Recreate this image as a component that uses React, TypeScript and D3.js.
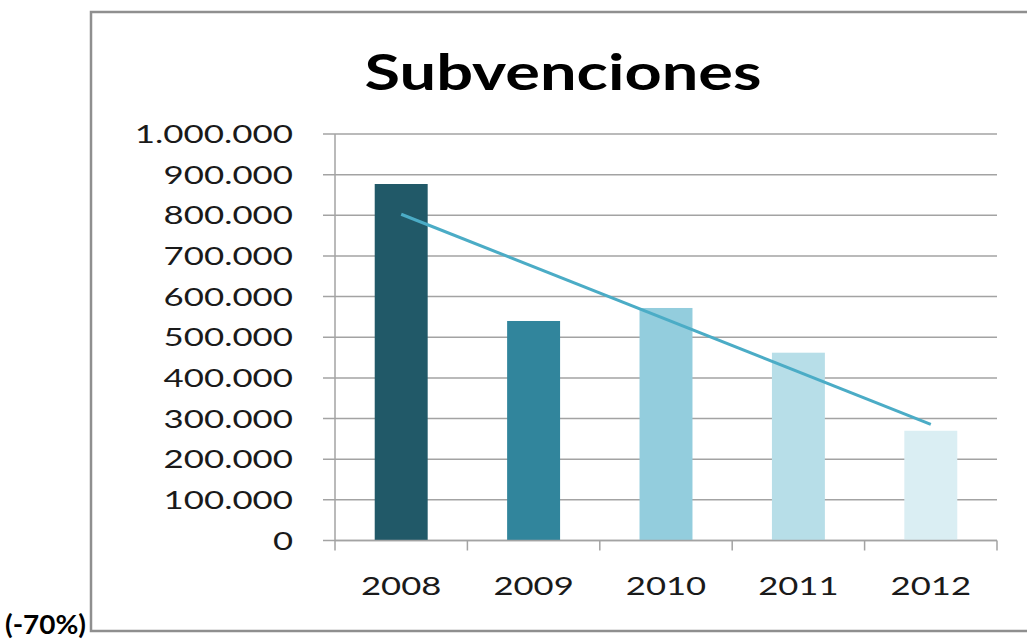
import { scaleBand, scaleLinear, formatLocale, line } from 'd3'

const years = ['2008', '2009', '2010', '2011', '2012']
const subvenciones = [877000, 540000, 572000, 462000, 270000]
const barColors = ['#215968', '#31859c', '#93cddd', '#b7dee8', '#daeef3']
const yTicks = [0, 100000, 200000, 300000, 400000, 500000, 600000, 700000, 800000, 900000, 1000000]
const title = 'Subvenciones'
const note = '(-70%)'

const fmt = formatLocale({ decimal: ',', thousands: '.', grouping: [3], currency: ['', '€'] }).format(',d')

// the picture is stretched sideways, so the text widths are set per glyph
const labelWidth = (s: string) =>
  s.split('').reduce((w, c) => w + (c === '.' ? 8.8 : 20.1), 0)

const App = () => {
  const width = 1027
  const height = 641
  const plot = { left: 335, right: 997, top: 134, bottom: 540.5 }

  const xScale = scaleBand<string>().domain(years).range([plot.left, plot.right])
  const yScale = scaleLinear().domain([0, 1000000]).range([plot.bottom, plot.top])
  const barW = xScale.bandwidth() * 0.4

  // linear trend line (least squares) over the series
  const n = subvenciones.length
  const mx = (n - 1) / 2
  const my = subvenciones.reduce((a, b) => a + b, 0) / n
  const slope =
    subvenciones.reduce((a, v, i) => a + (i - mx) * (v - my), 0) /
    subvenciones.reduce((a, _v, i) => a + (i - mx) * (i - mx), 0)
  const trend = years.map((yr, i) => ({ x: xScale(yr)! + xScale.bandwidth() / 2, y: yScale(my + slope * (i - mx)) }))
  const trendLine = line<{ x: number; y: number }>().x(d => d.x).y(d => d.y)
  const ends = [trend[0], trend[trend.length - 1]]

  const font = 'Lato, "Open Sans", sans-serif'
  const grid = '#a3a3a3'

  return (
    <svg width={width} height={height} style={{ position: 'absolute', left: 0, top: 0, background: '#fff' }}>
      <rect x={91} y={12} width={960} height={619} fill="#fff" stroke="#8f8f8f" strokeWidth={2.5} />

      <text x={563} y={90} fontFamily={font} fontWeight="bold" fontSize={50} textAnchor="middle"
        textLength={397} lengthAdjust="spacingAndGlyphs" fill="#000">{title}</text>

      {yTicks.map(t => (
        <g key={t}>
          <line x1={plot.left - 12} x2={plot.right} y1={yScale(t)} y2={yScale(t)} stroke={grid} strokeWidth={1.5} />
          <text x={293} y={yScale(t) + 9} fontFamily={font} fontSize={25} textAnchor="end"
            textLength={labelWidth(fmt(t))} lengthAdjust="spacingAndGlyphs" fill="#1a1a1a">{fmt(t)}</text>
        </g>
      ))}

      {years.map((yr, i) => (
        <rect key={yr} x={xScale(yr)! + (xScale.bandwidth() - barW) / 2} y={yScale(subvenciones[i])}
          width={barW} height={yScale(0) - yScale(subvenciones[i])} fill={barColors[i]} />
      ))}

      <line x1={plot.left} x2={plot.left} y1={plot.top} y2={plot.bottom} stroke={grid} strokeWidth={1.5} />
      <line x1={plot.left} x2={plot.right} y1={plot.bottom} y2={plot.bottom} stroke={grid} strokeWidth={1.5} />
      {[...years.map(yr => xScale(yr)!), plot.right].map((x, i) => (
        <line key={i} x1={x} x2={x} y1={plot.bottom} y2={plot.bottom + 10} stroke={grid} strokeWidth={1.5} />
      ))}
      {years.map(yr => (
        <text key={yr} x={xScale(yr)! + xScale.bandwidth() / 2} y={595} fontFamily={font} fontSize={25}
          textAnchor="middle" textLength={labelWidth(yr)} lengthAdjust="spacingAndGlyphs" fill="#1a1a1a">{yr}</text>
      ))}

      <path d={trendLine(ends) || ''} fill="none" stroke="#4bacc6" strokeWidth={3} />

      <text x={5} y={634} fontFamily={font} fontWeight="bold" fontSize={26}
        textLength={81} lengthAdjust="spacingAndGlyphs" fill="#000">{note}</text>
    </svg>
  )
}

export default App
